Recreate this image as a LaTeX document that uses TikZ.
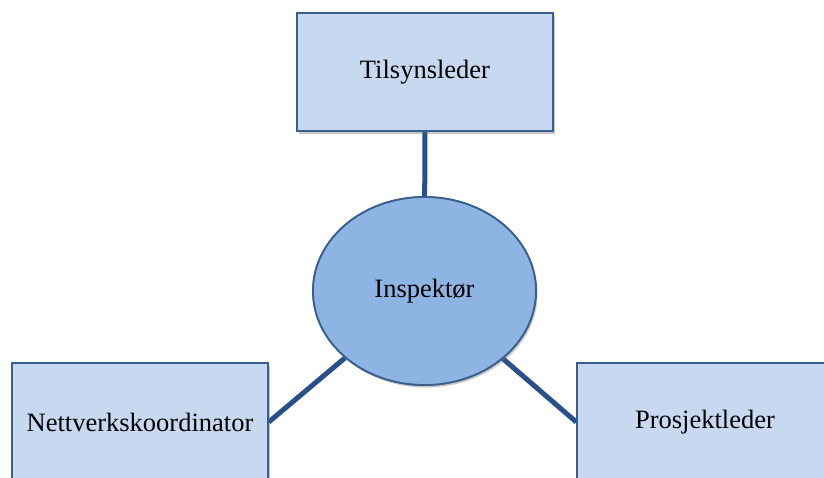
\documentclass[tikz,border=0pt]{standalone}
\usepackage{fontspec}
\setmainfont{Liberation Serif}
\usetikzlibrary{shapes.geometric,shadows}
\definecolor{boxfill}{HTML}{C6D9F1}
\definecolor{boxline}{HTML}{3A5F8F}
\definecolor{ovalfill}{HTML}{8EB4E3}
\definecolor{linkcol}{HTML}{28508A}
\tikzset{
  role/.style={rectangle, draw=boxline, line width=1.5pt, fill=boxfill,
    minimum width=256pt, minimum height=118pt, inner sep=0pt,
    font=\fontsize{26.5}{30}\selectfont,
    drop shadow={opacity=0.25, shadow xshift=1.5pt, shadow yshift=-2.5pt}},
  hub/.style={ellipse, draw=boxline, line width=1.8pt, fill=ovalfill,
    minimum width=223pt, minimum height=188pt, inner sep=0pt,
    font=\fontsize{26.5}{30}\selectfont,
    drop shadow={opacity=0.25, shadow xshift=1.5pt, shadow yshift=-2.5pt}},
  link/.style={draw=linkcol, line width=5pt}
}
\begin{document}
\begin{tikzpicture}[x=1pt, y=-1pt]
  \useasboundingbox (0,0) rectangle (824,477);
  % connectors first, so the shapes sit on top of their ends
  \path (425,72) coordinate (ctop);
  \node[hub] (insp) at (424.5,291) {};
  \node[role] (top) at (425,72) {};
  \node[role] (left) at (140,422) {};
  \node[role] (right) at (705,422) {};
  \draw[link] (top) -- (insp);
  \draw[link] (left.east) -- (insp);
  \draw[link] (right.west) -- (insp);
  % redraw shapes over the connector ends
  \node[hub] at (insp) {Inspektør};
  \node[role] at (top) {Tilsynsleder};
  \node[role] at (left) {Nettverkskoordinator};
  \node[role] at (right) {Prosjektleder};
\end{tikzpicture}
\end{document}
